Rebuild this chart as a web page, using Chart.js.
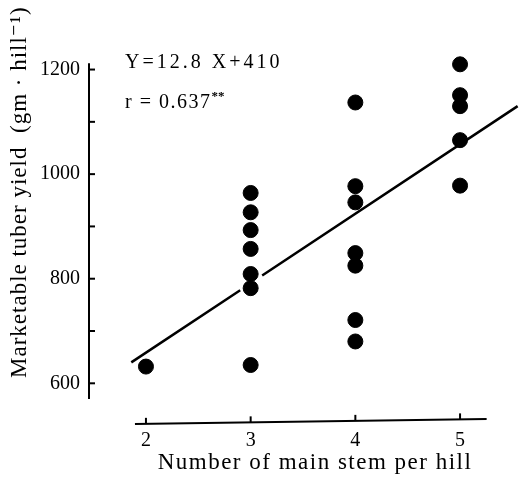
<!DOCTYPE html>
<html>
<head>
<meta charset="utf-8">
<script src="https://cdn.jsdelivr.net/npm/chart.js@4.4.0/dist/chart.umd.min.js"></script>
<style>
  html, body { margin: 0; padding: 0; background: #fff; }
  #wrap { width: 519px; height: 485px; }
</style>
</head>
<body>
<div id="wrap"><canvas id="chart"></canvas></div>
<script>
// number of main stems per hill and marketable yield
const stems = [2, 3, 3, 3, 3, 3, 3, 3, 4, 4, 4, 4, 4, 4, 4, 5, 5, 5, 5, 5];
const yields = [632, 964, 927, 893, 857, 809, 782, 635,
  1137, 977, 946, 849, 825, 721, 680, 1210, 1151, 1130, 1065, 978];

// fitted line, broken where it passes the 3-stem points
const fitX = [1.86, 2.9, 3.11, 5.55];
const fitY = [640, 778, 806, 1130];

const xTicks = [2, 3, 4, 5];
const yTicks = [600, 700, 800, 900, 1000, 1100, 1200];
const yLabelled = [600, 800, 1000, 1200];

const equation = 'Y=12.8 X+410';
const corr = 'r = 0.637';
const xTitle = 'Number of main stem per hill';
const yTitle = 'Marketable tuber yield  (gm · hill\u207B\u00B9)';

const serif = "'Liberation Serif', 'DejaVu Serif', serif";

// axis extents (drawn by hand, the axes are detached)
const xAxisSpan = [1.895, 5.254];
const yAxisSpan = [570, 1212];

const points = stems.map((s, i) => ({ x: s, y: yields[i] }));
const fitLine = [
  { x: fitX[0], y: fitY[0] },
  { x: fitX[1], y: fitY[1] },
  { x: 3, y: null },
  { x: fitX[2], y: fitY[2] },
  { x: fitX[3], y: fitY[3] }
];

/**
 * draws the axis lines, tick marks and the text annotations
 */
const axesPlugin = {
  id: 'axes',
  beforeDatasetsDraw(chart) {
    const { ctx, chartArea } = chart;
    const xs = chart.scales.x;
    const ys = chart.scales.y;
    ctx.save();
    ctx.strokeStyle = '#000';
    ctx.lineWidth = 2;

    // y axis
    const yx = chartArea.left;
    ctx.beginPath();
    ctx.moveTo(yx, ys.getPixelForValue(yAxisSpan[1]));
    ctx.lineTo(yx, ys.getPixelForValue(yAxisSpan[0]));
    ctx.stroke();
    yTicks.forEach(v => {
      const py = ys.getPixelForValue(v);
      ctx.beginPath();
      ctx.moveTo(yx, py);
      ctx.lineTo(yx + 6, py);
      ctx.stroke();
    });

    // x axis, slightly slanted like the print
    const x0 = xs.getPixelForValue(xAxisSpan[0]);
    const x1 = xs.getPixelForValue(xAxisSpan[1]);
    const yb = chartArea.bottom;
    const slant = (px) => yb + 2 - ((px - x0) / (x1 - x0)) * 5;
    ctx.beginPath();
    ctx.moveTo(x0, slant(x0));
    ctx.lineTo(x1, slant(x1));
    ctx.stroke();
    xTicks.forEach(v => {
      const px = xs.getPixelForValue(v);
      ctx.beginPath();
      ctx.moveTo(px, slant(px));
      ctx.lineTo(px, slant(px) - 6);
      ctx.stroke();
    });
    ctx.restore();
  },
  afterDraw(chart) {
    const { ctx } = chart;
    ctx.save();
    ctx.fillStyle = '#000';
    ctx.textBaseline = 'alphabetic';

    // regression equation
    ctx.letterSpacing = '3px';
    ctx.font = `20px ${serif}`;
    ctx.textAlign = 'left';
    ctx.fillText(equation, 125, 68);
    ctx.letterSpacing = '1.5px';
    ctx.fillText(corr, 125, 108);
    const w = ctx.measureText(corr).width;
    ctx.letterSpacing = '0px';
    ctx.font = `bold 13px ${serif}`;
    ctx.fillText('**', 125 + w, 100);

    // x title
    ctx.letterSpacing = '1.5px';
    ctx.font = `23px ${serif}`;
    ctx.textAlign = 'center';
    ctx.fillText(xTitle, 315, 469);

    // y title, rotated
    ctx.translate(26, 378);
    ctx.rotate(-Math.PI / 2);
    ctx.textAlign = 'left';
    ctx.letterSpacing = '1px';
    ctx.fillText(yTitle, 0, 0);
    ctx.restore();
  }
};

const canvas = document.getElementById('chart').getContext('2d');

const chart = new Chart(canvas, {
  type: 'scatter',
  data: {
    datasets: [
      {
        data: points,
        backgroundColor: '#000',
        borderColor: '#000',
        pointRadius: 7.5,
        pointHoverRadius: 7.5,
        clip: false
      },
      {
        type: 'line',
        data: fitLine,
        borderColor: '#000',
        borderWidth: 2.5,
        pointRadius: 0,
        spanGaps: false,
        fill: false,
        tension: 0,
        clip: false
      }
    ]
  },
  options: {
    responsive: true,
    maintainAspectRatio: false,
    animation: false,
    layout: { padding: 0, autoPadding: false },
    plugins: {
      legend: { display: false },
      tooltip: { enabled: false }
    },
    scales: {
      x: {
        type: 'linear',
        min: 1.456,
        max: 5.563,
        grid: { display: false, drawTicks: false },
        border: { display: false },
        ticks: {
          color: '#000',
          font: { family: serif, size: 20 },
          padding: 7
        },
        afterBuildTicks: s => {
          s.ticks = xTicks.map(v => ({ value: v }));
        },
        afterFit: s => {
          s.height = 63;
          s.paddingLeft = 0;
          s.paddingRight = 0;
        }
      },
      y: {
        min: 526,
        max: 1333,
        grid: { display: false, drawTicks: false },
        border: { display: false },
        ticks: {
          color: '#000',
          font: { family: serif, size: 20 },
          padding: 9,
          callback: v => (yLabelled.includes(v) ? String(v) : '')
        },
        afterBuildTicks: s => {
          s.ticks = yTicks.map(v => ({ value: v }));
        },
        afterFit: s => {
          s.width = 89;
          s.paddingTop = 0;
          s.paddingBottom = 0;
        }
      }
    }
  },
  plugins: [axesPlugin]
});
</script>
</body>
</html>
